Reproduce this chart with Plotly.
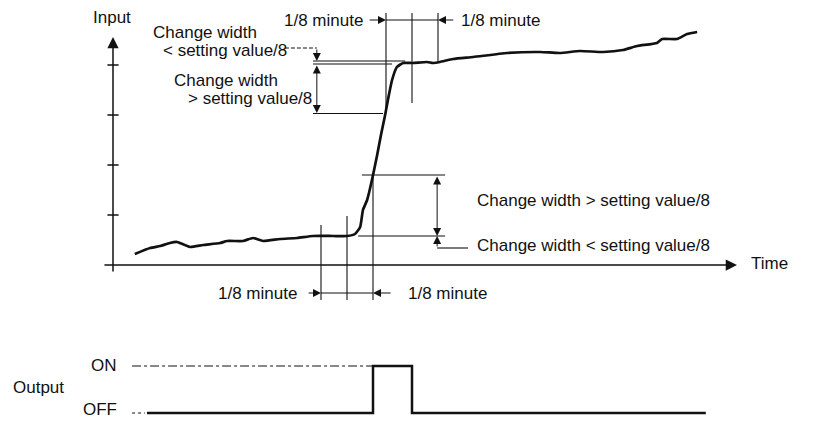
import plotly.graph_objects as go

# ---------------- data (time in seconds, input in arbitrary units) ----------------
time_s = [6.3, 10.7, 13.6, 16.4, 18.5, 19.3, 22.2, 26.0, 30.9, 32.9, 37.5, 40.4, 43.3,
          48.2, 53.1, 57.7, 63.5, 67.5, 69.8, 71.3, 72.1, 73.3, 74.7, 76.2, 77.3, 78.5,
          79.3, 80.5, 81.9, 83.7, 86.5, 90.6, 92.3, 94.3, 98.1, 103.9, 113.7, 123.2,
          128.9, 134.7, 141.4, 147.1, 151.2, 156.9, 158.4, 162.7, 165.6, 168.5]
input_val = [4.4, 6.8, 7.6, 8.8, 9.2, 8.8, 7.2, 8.0, 8.8, 9.6, 9.6, 10.8, 9.6,
             10.4, 10.8, 11.6, 11.6, 11.6, 12.4, 15.2, 22.0, 26.0, 34.0, 44.0, 52.0, 60.0,
             66.0, 74.0, 79.2, 80.8, 80.8, 81.2, 80.8, 81.2, 82.4, 83.2, 84.8, 85.2,
             84.8, 85.6, 85.2, 86.0, 87.6, 88.8, 90.4, 90.4, 92.4, 93.2]

out_time = [9.8, 75.0, 86.25, 171.0]
out_state = [0, 1, 0, 0]

y_ticks = [20, 40, 60, 80]
bottom_marks = [60.0, 67.5, 75.0]      # 1/8 minute = 7.5 s
top_marks = [78.75, 86.25, 93.75]
low_level = 11.6
mid_level = 36.0
top_levels = [81.6, 80.4, 60.6]

FONT = "Liberation Sans, Arial, sans-serif"
FS = 17
BLK = "#111111"

# ---------------- scale setup (pixels -> data) ----------------
W, H = 840, 421
PX_PER_S = 26 / 7.5
X0_PX = 113
PX_PER_U = 2.5
Y0_PX = 265
xr = [-X0_PX / PX_PER_S, (W - X0_PX) / PX_PER_S]
yr = [(Y0_PX - H) / PX_PER_U, Y0_PX / PX_PER_U]
OFF_PX, ON_PX = 413, 366
PX_PER_O = OFF_PX - ON_PX
y2r = [(OFF_PX - H) / PX_PER_O, OFF_PX / PX_PER_O]

fig = go.Figure()

# input curve
fig.add_trace(go.Scatter(x=time_s, y=input_val, mode="lines",
                         line=dict(color=BLK, width=2.7, shape="spline", smoothing=0.5),
                         hoverinfo="skip", showlegend=False))

# thin construction lines
bm, tm = bottom_marks, top_marks
tx, ty = [], []
def seg(x0, y0, x1, y1):
    tx.extend([x0, x1, None]); ty.extend([y0, y1, None])

seg(bm[0], 16, bm[0], -14)
seg(bm[1], 19.6, bm[1], -14)
seg(bm[2], mid_level, bm[2], -14)
seg(71.8, mid_level, 95.8, mid_level)
seg(70.7, low_level, 95.8, low_level)
seg(bm[0], -11.2, bm[2], -11.2)
seg(93.5, 6.8, 102.4, 6.8)
seg(tm[0], 100.8, tm[0], 62)
seg(tm[1], 100.8, tm[1], 64.8)
seg(tm[2], 100.8, tm[2], 81.2)
seg(tm[0], 98, tm[2], 98)
seg(57.7, top_levels[0], 84.3, top_levels[0])
seg(57.7, top_levels[1], 80.5, top_levels[1])
seg(57.7, top_levels[2], 77.9, top_levels[2])
fig.add_trace(go.Scatter(x=tx, y=ty, mode="lines", line=dict(color=BLK, width=1.1),
                         hoverinfo="skip", showlegend=False, connectgaps=False))

# dashed leader at top-left
fig.add_trace(go.Scatter(x=[49.6, 58.8], y=[86.8, 86.8], mode="lines",
                         line=dict(color=BLK, width=1, dash="4px,2px"),
                         hoverinfo="skip", showlegend=False))

# y ticks
fig.add_trace(go.Scatter(x=[0] * len(y_ticks), y=y_ticks, mode="markers",
                         marker=dict(symbol="line-ew-open", size=8, color=BLK,
                                     line=dict(color=BLK, width=1.5)),
                         hoverinfo="skip", showlegend=False))

# output signal
fig.add_trace(go.Scatter(x=out_time, y=out_state, mode="lines", yaxis="y2",
                         line=dict(color=BLK, width=2.5, shape="hv"),
                         hoverinfo="skip", showlegend=False))
fig.add_trace(go.Scatter(x=[5.5, bm[2]], y=[1, 1], mode="lines", yaxis="y2",
                         line=dict(color=BLK, width=1, dash="dashdot"),
                         hoverinfo="skip", showlegend=False))
fig.add_trace(go.Scatter(x=[5.5, 9.2], y=[0, 0], mode="lines", yaxis="y2",
                         line=dict(color=BLK, width=1, dash="3px,3px"),
                         hoverinfo="skip", showlegend=False))

ann = []
def arrow(x0, y0, x1, y1, side="end", width=1, size=1.6, head=2, yref="y"):
    ann.append(dict(x=x1, y=y1, ax=x0, ay=y0, xref="x", yref=yref, axref="x", ayref=yref,
                    text="", showarrow=True, arrowhead=head, arrowsize=size,
                    arrowwidth=width, arrowcolor=BLK, arrowside=side,
                    startarrowhead=head, startarrowsize=size, standoff=0, startstandoff=0))

def label(x, y, text, xanchor="left", yref="y"):
    ann.append(dict(x=x, y=y, xref="x", yref=yref, text=text, showarrow=False,
                    xanchor=xanchor, yanchor="middle",
                    font=dict(family=FONT, size=FS, color=BLK)))

# axes
arrow(0, -3.2, 0, 91.2, width=1.5, size=1.5)
arrow(-2.9, 0, 180, 0, width=1.5, size=1.5)
# bottom dimensions
arrow(93.5, mid_level, 93.5, low_level, side="end+start")
arrow(93.5, 6.8, 93.5, low_level)
arrow(56.0, -11.2, bm[0], -11.2)
arrow(80.5, -11.2, bm[2], -11.2)
# top dimensions
arrow(73.6, 98, tm[0], 98)
arrow(98.6, 98, tm[2], 98)
arrow(58.8, 86.8, 58.8, top_levels[0])
arrow(58.8, top_levels[1], 58.8, 60.8, side="end+start")

# labels
label(-0.3, 99.2, "Input", xanchor="center")
label(183.5, 0.8, "Time")
label(72.7, 98, "1/8 minute", xanchor="right")
label(99.8, 98, "1/8 minute")
label(11.0, 93.2, "Change width")
label(13.8, 86.0, "&lt; setting value/8")
label(17.0, 74.0, "Change width")
label(21.0, 66.8, "&gt; setting value/8")
label(104.4, 26.0, "Change width &gt; setting value/8")
label(104.4, 8.0, "Change width &lt; setting value/8")
label(53.6, -11.2, "1/8 minute", xanchor="right")
label(84.6, -11.2, "1/8 minute")
label(-13.6, 0.55, "Output", xanchor="right", yref="y2")
label(1.6, 1.02, "ON", xanchor="right", yref="y2")
label(1.6, 0.08, "OFF", xanchor="right", yref="y2")

fig.update_layout(
    width=W, height=H, margin=dict(l=0, r=0, t=0, b=0),
    paper_bgcolor="white", plot_bgcolor="white",
    xaxis=dict(range=xr, visible=False, fixedrange=True),
    yaxis=dict(range=yr, visible=False, fixedrange=True),
    yaxis2=dict(range=y2r, visible=False, overlaying="y", fixedrange=True),
    annotations=ann, showlegend=False,
)

fig.write_html("out.html", config={"displayModeBar": False, "staticPlot": True},
               post_script="document.body.style.margin='0';document.body.style.overflow='hidden';")
